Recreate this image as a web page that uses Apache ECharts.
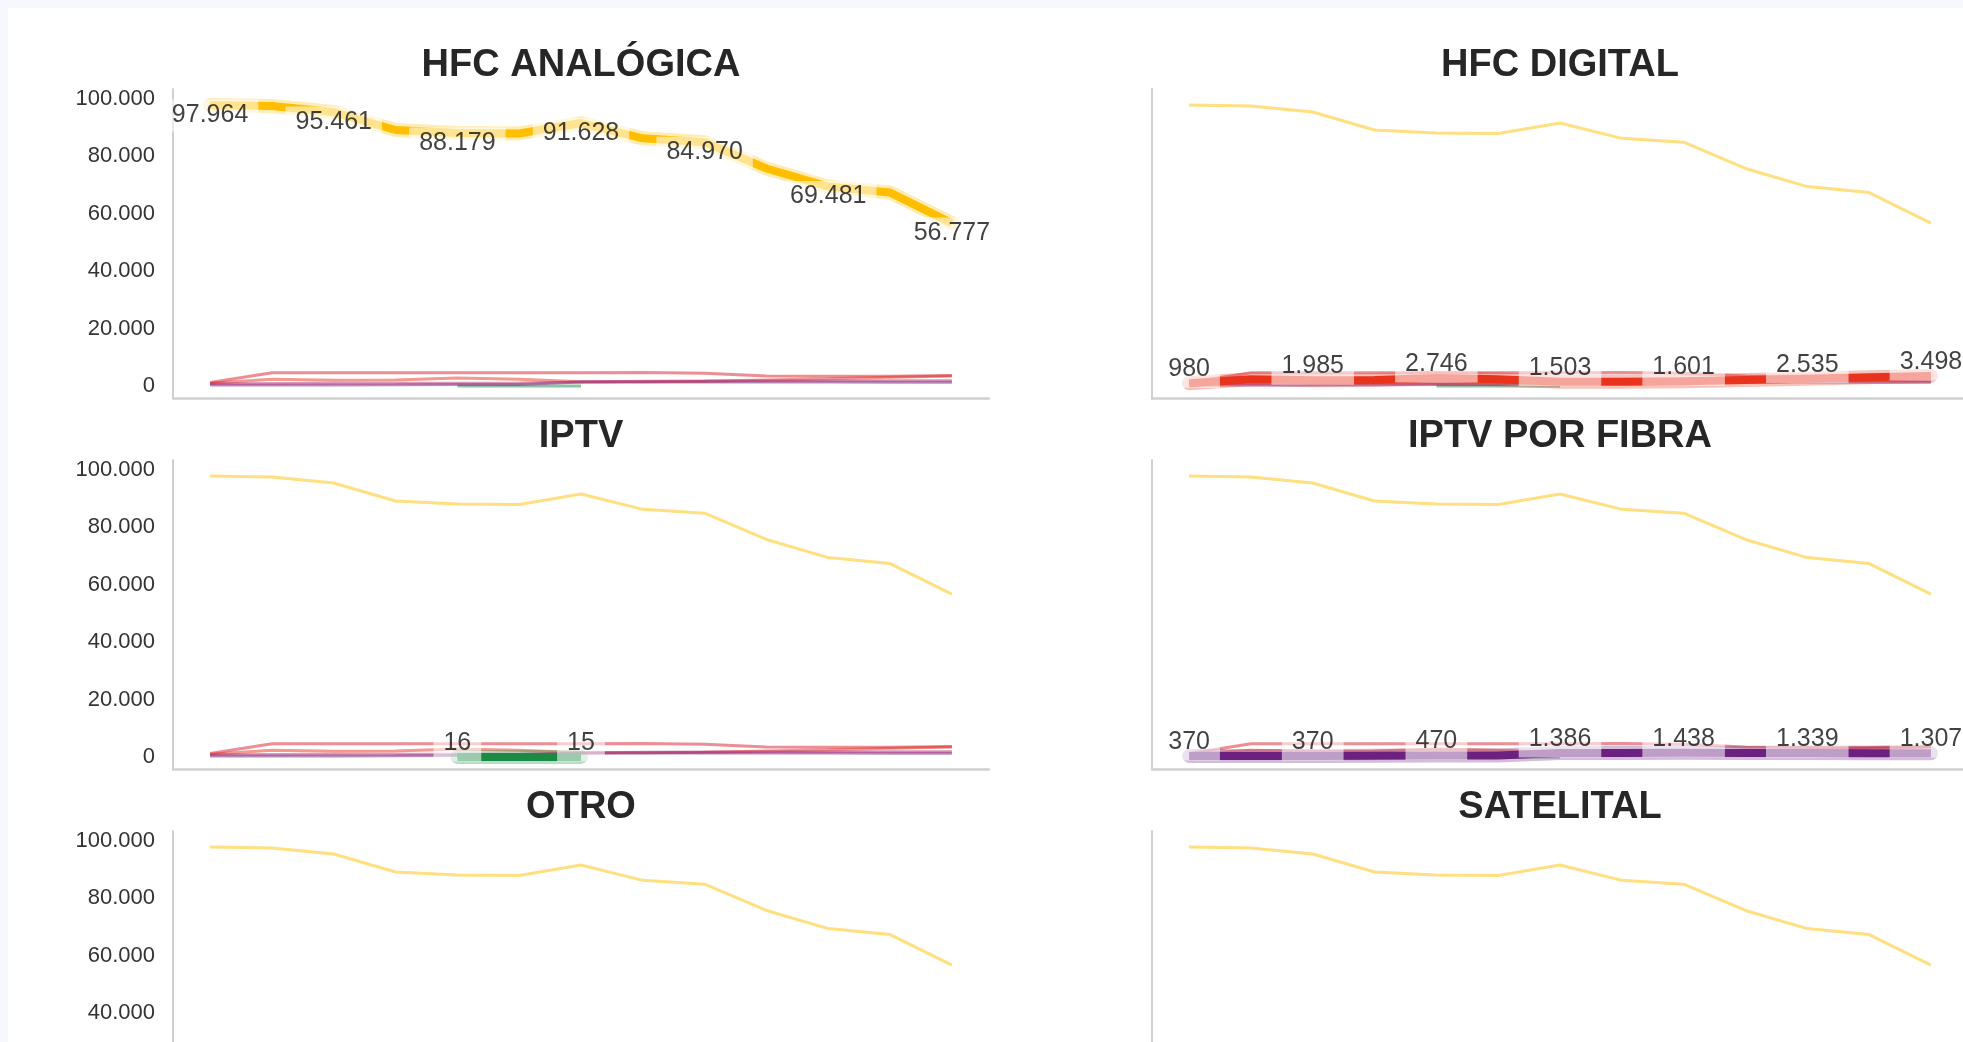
<!DOCTYPE html>
<html>
<head>
<meta charset="utf-8">
<script src="https://cdn.jsdelivr.net/npm/echarts@6/dist/echarts.min.js"></script>
<style>
  html, body { margin: 0; padding: 0; background: #f7f8fd; overflow: hidden; }
  #card { position: absolute; left: 8px; top: 8px; width: 1955px; height: 1034px; background: #fff; }
  #chart { position: absolute; left: 0; top: 0; width: 1963px; height: 1042px; }
</style>
</head>
<body>
<div id="card"></div>
<div id="chart"></div>
<script>
// suscripciones por tecnologia, 13 periodos
const tecnologias = ["HFC ANALÓGICA", "HFC DIGITAL", "IPTV", "IPTV POR FIBRA", "OTRO", "SATELITAL"];
const colores = ["#FFBF00", "#E8341C", "#1B8A45", "#6C2180", "#B5367A", "#D81E2C"];

const hfcAnalogica = [97964, 97600, 95461, 89200, 88179, 88000, 91628, 86300, 84970, 75800, 69481, 67400, 56777];
const hfcDigital = [980, 2300, 1985, 2100, 2746, 2300, 1503, 1450, 1601, 2100, 2535, 3000, 3498];
const iptv = [null, null, null, null, 16, 17, 15, null, null, null, null, null, null];
const iptvFibra = [370, 370, 370, 400, 470, 500, 1386, 1420, 1438, 1390, 1339, 1320, 1307];
const otro = [800, 850, 900, 900, 950, 1000, 1400, 1600, 1700, 1800, 1850, 1850, 1850];
const satelital = [1200, 4600, 4600, 4600, 4600, 4600, 4600, 4700, 4400, 3500, 3400, 3400, 3600];

const valores = [hfcAnalogica, hfcDigital, iptv, iptvFibra, otro, satelital];
const ticksY = [0, 20000, 40000, 60000, 80000, 100000];

const colLeft = [173, 1152];
const rowTop = [89, 460, 831];
const gridW = 816, gridH = 309;

function fmt(v) {
  return Math.round(v).toString().replace(/\B(?=(\d{3})+(?!\d))/g, ".");
}
function hexA(hex, a) {
  const n = parseInt(hex.slice(1), 16);
  return "rgba(" + (n >> 16) + "," + ((n >> 8) & 255) + "," + (n & 255) + "," + a + ")";
}
function pares(arr) {
  return arr.map((v, i) => [i, v]);
}

const grid = [], xAxis = [], yAxis = [], title = [], series = [];

tecnologias.forEach((nombre, p) => {
  const col = p % 2, row = Math.floor(p / 2);
  grid.push({ left: colLeft[col], top: rowTop[row], width: gridW, height: gridH, outerBoundsMode: "none" });
  title.push({
    text: nombre,
    left: colLeft[col] + gridW / 2 - 5,
    top: rowTop[row] - 47,
    textAlign: "center",
    textStyle: { fontFamily: "Liberation Sans", fontSize: 38, fontWeight: "bold", color: "#262626" }
  });
  xAxis.push({
    gridIndex: p, type: "value", min: -0.6, max: 12.6,
    axisLine: { show: true, onZero: false, lineStyle: { color: "#d0d0d0", width: 2.5 } },
    axisTick: { show: false }, axisLabel: { show: false }, splitLine: { show: false }
  });
  yAxis.push({
    gridIndex: p, type: "value", min: -4200, max: 103500,
    axisLine: { show: true, onZero: false, lineStyle: { color: "#d0d0d0", width: 2 } },
    axisTick: { show: false }, splitLine: { show: false },
    axisLabel: {
      show: col === 0, customValues: ticksY, margin: 18,
      fontFamily: "Liberation Sans", fontSize: 22, color: "#333",
      formatter: v => fmt(v)
    }
  });

  // todas las series en tenue
  valores.forEach((arr, s) => {
    series.push({
      type: "line", xAxisIndex: p, yAxisIndex: p, data: pares(arr),
      symbol: "none", silent: true, z: 2,
      lineStyle: { color: colores[s], width: 3, opacity: 0.5 }
    });
  });

  // serie destacada: halo + linea + etiquetas
  const arr = valores[p];
  series.push({
    type: "line", xAxisIndex: p, yAxisIndex: p, data: pares(arr),
    symbol: "none", silent: true, z: 3,
    lineStyle: { color: hexA(colores[p], 0.3), width: 14, cap: "round", join: "round" }
  });
  series.push({
    type: "line", xAxisIndex: p, yAxisIndex: p, data: pares(arr),
    symbol: "none", silent: true, z: 4,
    lineStyle: { color: colores[p], width: 8, join: "round" }
  });
  const abajo = p === 0;
  series.push({
    type: "scatter", xAxisIndex: p, yAxisIndex: p, z: 5, silent: true,
    symbolSize: 1, itemStyle: { color: "rgba(0,0,0,0)" },
    data: pares(arr).filter(d => d[0] % 2 === 0 && d[1] != null),
    label: {
      show: true,
      position: abajo ? "bottom" : "top",
      distance: 0,
      offset: abajo ? [0, -6] : [0, 5],
      padding: abajo ? [3, 10, 4, 10] : [4, 10, 6, 10],
      backgroundColor: "rgba(255,255,255,0.7)",
      fontFamily: "Liberation Sans", fontSize: 25, color: "#111", lineHeight: 25,
      formatter: d => fmt(d.value[1])
    }
  });
});

const myChart = echarts.init(document.getElementById("chart"));
myChart.setOption({ animation: false, title, grid, xAxis, yAxis, series });
</script>
</body>
</html>
